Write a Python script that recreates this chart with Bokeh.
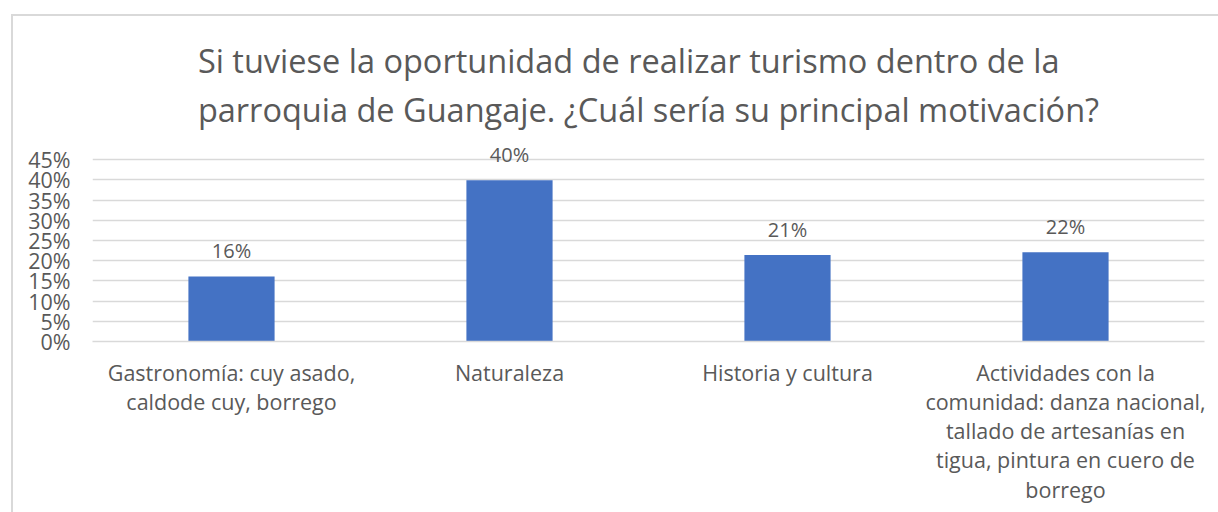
from bokeh.plotting import figure
from bokeh.models import ColumnDataSource, FactorRange, Range1d, FixedTicker, PrintfTickFormatter
from bokeh.core.properties import value
from bokeh.embed import file_html
from bokeh.resources import INLINE

categories = [
    "Gastronomía: cuy asado,\ncaldode cuy, borrego",
    "Naturaleza",
    "Historia y cultura",
    "Actividades con la\ncomunidad: danza nacional,\ntallado de artesanías en\ntigua, pintura en cuero de\nborrego",
]
values = [16.1, 39.9, 21.4, 22.1]
labels = ["16%", "40%", "21%", "22%"]
y_ticks = [0, 5, 10, 15, 20, 25, 30, 35, 40, 45]
title_lines = [
    "Si tuviese la oportunidad de realizar turismo dentro de la",
    "parroquia de Guangaje. ¿Cuál sería su principal motivación?",
]

FONT = "Open Sans"
TXT = "#595959"
GRID = "#D9D9D9"

src = ColumnDataSource(dict(cat=categories, val=values, lab=labels))

p = figure(
    x_range=FactorRange(*categories, range_padding=0),
    y_range=Range1d(0, 50),
    width=1218, height=512,
    output_backend="svg", toolbar_location=None,
    min_border_left=92, min_border_right=14, min_border_top=139, min_border_bottom=171,
)
# light chart-area border (left and top edges visible in the reference)
p.styles = {
    "background": ("linear-gradient(#D9D9D9,#D9D9D9) 11px 14px / 2px 100% no-repeat, "
                   "linear-gradient(#D9D9D9,#D9D9D9) 11px 14px / 100% 2px no-repeat, white"),
}
p.border_fill_color = None
p.background_fill_color = "white"

p.title.text = "\n".join(title_lines)
p.title.align = "center"
p.title.offset = -39
p.title.text_font = FONT
p.title.text_font_size = "32.5px"
p.title.text_font_style = "normal"
p.title.text_color = TXT
p.title.standoff = 15
p.title.text_line_height = 1.09

p.vbar(x="cat", top="val", width=0.31, source=src, fill_color="#4472C4", line_color=None)
p.text(x="cat", y="val", text="lab", source=src, text_align="center", text_baseline="bottom",
       y_offset=-12, text_font=value(FONT), text_font_size="20px", text_color=TXT)

p.outline_line_color = None
p.xgrid.grid_line_color = None
p.ygrid.grid_line_color = GRID
p.ygrid.grid_line_width = 1.5

p.yaxis.ticker = FixedTicker(ticks=y_ticks)
p.yaxis.formatter = PrintfTickFormatter(format="%d%%")
p.yaxis.axis_line_color = None
p.yaxis.major_tick_line_color = None
p.yaxis.minor_tick_line_color = None
p.yaxis.major_label_text_font = FONT
p.yaxis.major_label_text_font_size = "21.5px"
p.yaxis.major_label_text_color = TXT
p.yaxis.major_label_standoff = 16
p.yaxis.major_label_text_line_height = 0.8

p.xaxis.axis_line_color = GRID
p.xaxis.axis_line_width = 1.5
p.xaxis.major_tick_line_color = None
p.xaxis.minor_tick_line_color = None
p.xaxis.major_label_text_font = FONT
p.xaxis.major_label_text_font_size = "21.5px"
p.xaxis.major_label_text_color = TXT
p.xaxis.major_label_standoff = 10
p.xaxis.major_label_text_line_height = 1.01
p.xaxis.major_label_orientation = "horizontal"

open("out.html", "w").write(file_html(p, INLINE))
